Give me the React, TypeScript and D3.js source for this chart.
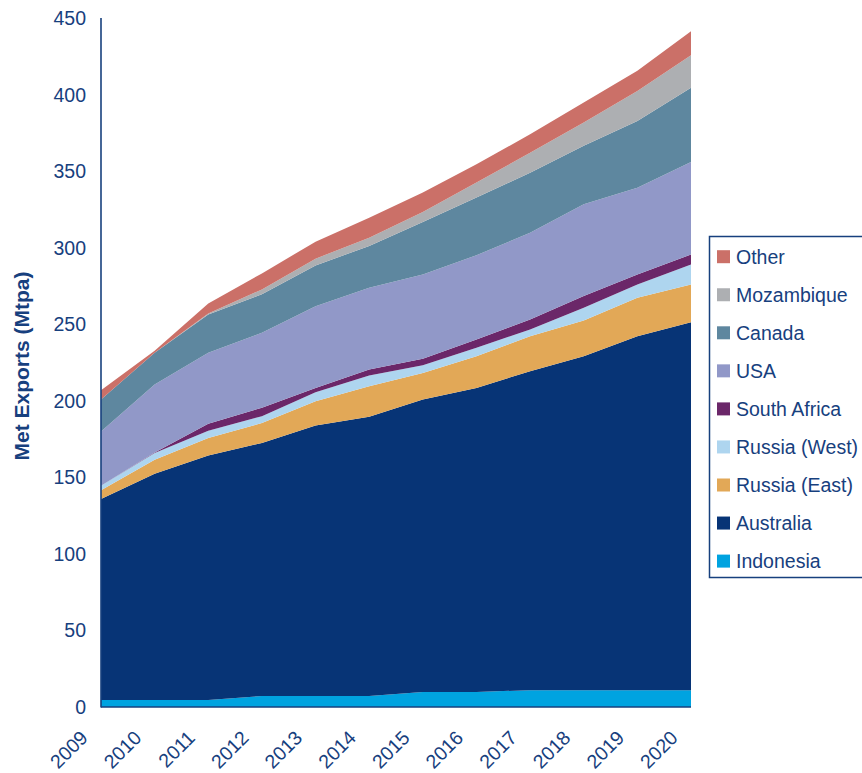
import React from "react";
import * as d3 from "d3";

const years = [2009, 2010, 2011, 2012, 2013, 2014, 2015, 2016, 2017, 2018, 2019, 2020];
const seriesNames = ["Indonesia", "Australia", "Russia (East)", "Russia (West)", "South Africa", "USA", "Canada", "Mozambique", "Other"];
const indonesia = [4.6, 4.6, 4.6, 7.2, 7.2, 7.2, 9.8, 9.8, 11, 11, 11, 11];
const australia = [131.2, 147.8, 159.6, 165.3, 176.6, 182.3, 191.0, 198.6, 208.3, 218.1, 231.2, 240.3];
const russiaEast = [5.7, 9.1, 11.5, 13.0, 15.9, 20.0, 17.4, 20.7, 22.9, 23.4, 25.1, 24.7];
const russiaWest = [3.0, 4.4, 4.8, 4.4, 5.9, 7.0, 5.0, 5.5, 4.4, 8.3, 8.7, 13.0];
const southAfrica = [0, 0.3, 4.5, 5.6, 2.8, 3.9, 4.2, 5.4, 6.5, 7.6, 6.5, 6.6];
const usa = [35.5, 44.4, 46.3, 48.9, 53.4, 53.4, 55.1, 55.0, 56.7, 59.9, 56.7, 60.4];
const canada = [20.8, 20.7, 25.1, 25.1, 26.6, 27.3, 34.2, 37.7, 39.2, 38.2, 43.6, 48.4];
const mozambique = [0, 0, 0.6, 3.2, 4.4, 5.4, 6.6, 9.8, 13.0, 15.2, 19.6, 21.3];
const other = [6.1, 1.3, 6.6, 10.5, 11.1, 13.1, 12.7, 12.0, 12.0, 13.1, 13.1, 15.7];
const yTicks = [0, 50, 100, 150, 200, 250, 300, 350, 400, 450];
const colors = ["#00A3E0", "#073476", "#E2A857", "#AED5EF", "#6B2769", "#9198C8", "#5E879F", "#ADAFB2", "#CB7068"];

const seriesValues = [indonesia, australia, russiaEast, russiaWest, southAfrica, usa, canada, mozambique, other];

const NAVY = "#17407E";
const FONT = "'Liberation Sans', Arial, sans-serif";

export default function App() {
  const x = d3.scaleLinear().domain([2009, 2020]).range([101, 691]);
  const y = d3.scaleLinear().domain([0, 450]).range([707, 18]);

  const rows = years.map((yr, i) => {
    const r: any = { year: yr };
    seriesNames.forEach((n, k) => (r[n] = seriesValues[k][i]));
    return r;
  });
  const stacked = d3.stack().keys(seriesNames)(rows);
  const area = d3
    .area<any>()
    .x((d) => x(d.data.year))
    .y0((d) => y(d[0]))
    .y1((d) => y(d[1]));

  const legendOrder = [...seriesNames].reverse();

  return (
    <div style={{ position: "absolute", left: 0, top: 0 }}>
      <svg width={862} height={773} style={{ display: "block", fontFamily: FONT }}>
        <rect width={862} height={773} fill="#fff" />
        {stacked.map((s, k) => (
          <path key={s.key} d={area(s as any) || ""} fill={colors[k]} />
        ))}
        {/* axes */}
        <line x1={101} x2={101} y1={18} y2={707.5} stroke={NAVY} strokeWidth={1.6} />
        <line x1={101} x2={691} y1={707} y2={707} stroke={NAVY} strokeWidth={1.6} />
        {yTicks.map((t) => (
          <text key={t} x={86} y={y(t)} dy="0.36em" textAnchor="end" fontSize={19.5} fill={NAVY}>
            {t}
          </text>
        ))}
        {years.map((yr) => (
          <text
            key={yr}
            transform={`translate(${x(yr) - 12},${739}) rotate(-45)`}
            textAnchor="end"
            fontSize={19.5}
            fill={NAVY}
          >
            {yr}
          </text>
        ))}
        <text
          transform={`translate(29,366) rotate(-90)`}
          textAnchor="middle"
          fontSize={21}
          fontWeight="bold"
          fill={NAVY}
        >
          Met Exports (Mtpa)
        </text>
        {/* legend */}
        <rect x={709.5} y={236.5} width={170} height={341} fill="#fff" stroke={NAVY} strokeWidth={1.5} />
        {legendOrder.map((n, i) => {
          const k = seriesNames.indexOf(n);
          const cy = 256.7 + i * 38.05;
          return (
            <g key={n}>
              <rect x={717} y={cy - 6.5} width={13} height={13} fill={colors[k]} />
              <text x={736} y={cy} dy="0.36em" fontSize={19.5} fill={NAVY}>
                {n}
              </text>
            </g>
          );
        })}
      </svg>
    </div>
  );
}
